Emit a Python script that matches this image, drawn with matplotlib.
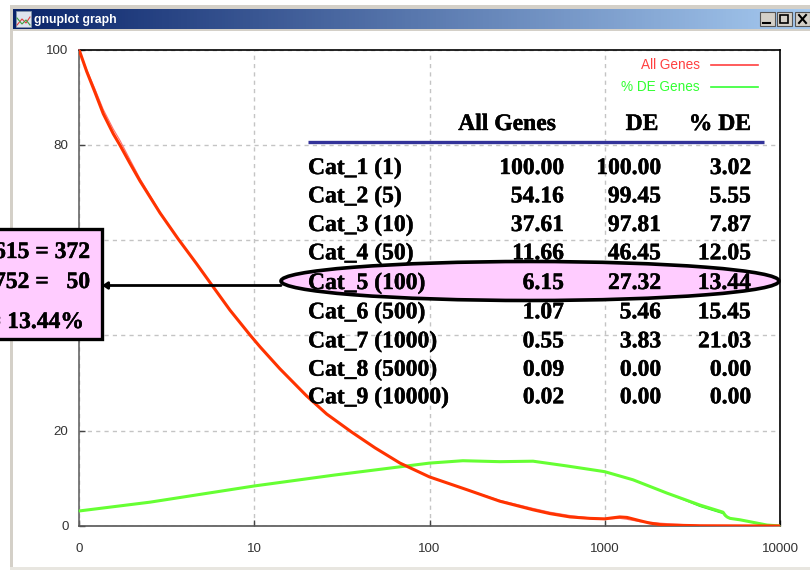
import numpy as np
import matplotlib
matplotlib.use("Agg")
import matplotlib.pyplot as plt
import matplotlib.patheffects as pe
from matplotlib.patches import Ellipse, Rectangle

# ---- data
red_x = [1, 1.106, 1.234, 1.376, 1.569, 1.714, 1.954, 2.229, 2.899, 3.687, 4.694, 5.72, 7.27, 9.45, 10.79, 14, 19.9, 25.9, 36, 48.9, 67.9, 100, 164, 252, 390, 487, 634, 824, 1000, 1100, 1218, 1340, 1589, 1813, 2065, 2266, 3491, 10000]
red_y = [100, 95.4, 91, 86.5, 82.3, 79.9, 76.1, 72.4, 65.7, 60.2, 55, 50.6, 45.3, 40.1, 37.6, 33, 27.3, 23.5, 19.7, 16.4, 13.2, 10.3, 7.6, 5.2, 3.4, 2.6, 1.9, 1.6, 1.5, 1.7, 1.9, 1.8, 1.1, 0.6, 0.3, 0.2, 0.05, 0]
red_thin_y = [100, 95.8, 91.7, 87.4, 83.3, 80.9, 76.9, 72.9, 65.9, 60.2, 55, 50.6, 45.3, 40.1, 37.6, 33.1, 27.3, 23.5, 19.7, 16.4, 13.2, 10.3, 7.6, 5.4, 3.7, 2.9, 2.2, 1.7, 1.5, 1.5, 1.6, 1.4, 0.9, 0.8, 0.6, 0.5, 0.1, 0]
green_x = [1, 2.54, 10, 28.8, 100, 155, 252, 390, 609, 1000, 1449, 2266, 3491, 4730, 4856, 4988, 5188, 5913, 8430, 10000]
green_y = [3.15, 5, 8.4, 10.7, 13.2, 13.7, 13.5, 13.6, 12.6, 11.4, 9.7, 6.9, 4.4, 2.9, 2.3, 1.9, 1.6, 1.3, 0.2, 0]
green_thin_y = [3.15, 5, 8.4, 10.7, 13.2, 13.7, 13.5, 13.6, 12.6, 11.4, 9.7, 6.9, 4.1, 2.6, 2.1, 1.8, 1.6, 1.3, 0.2, 0]
x_ticks = [1, 10, 100, 1000, 10000]
x_labels = ["0", "10", "100", "1000", "10000"]
y_ticks = [0, 20, 40, 60, 80, 100]

cats = ["Cat_1 (1)", "Cat_2 (5)", "Cat_3 (10)", "Cat_4 (50)", "Cat_5 (100)", "Cat_6 (500)", "Cat_7 (1000)", "Cat_8 (5000)", "Cat_9 (10000)"]
all_genes = ["100.00", "54.16", "37.61", "11.66", "6.15", "1.07", "0.55", "0.09", "0.02"]
de = ["100.00", "99.45", "97.81", "46.45", "27.32", "5.46", "3.83", "0.00", "0.00"]
pct_de = ["3.02", "5.55", "7.87", "12.05", "13.44", "15.45", "21.03", "0.00", "0.00"]

W, H = 810, 570
fig = plt.figure(figsize=(W / 100, H / 100), dpi=100, facecolor="white")
SANS = "Liberation Sans"
SERIF = "Liberation Serif"

# window chrome layer
bg = fig.add_axes([0, 0, 1, 1], zorder=0)
bg.set_xlim(0, W); bg.set_ylim(H, 0); bg.axis("off")
chrome = "#D4D0C8"
bg.add_patch(Rectangle((10, 5), 800, 4, fc=chrome, ec="none"))
bg.add_patch(Rectangle((10, 5), 3, 565, fc=chrome, ec="none"))
bg.add_patch(Rectangle((10, 567), 800, 3, fc="#E8E6E0", ec="none"))
grad = np.linspace(0, 1, 256)[None, :, None]
c0 = np.array([10, 36, 106]) / 255
c1 = np.array([166, 202, 240]) / 255
bg.imshow(c0 + (c1 - c0) * grad, extent=(13, 810, 29, 9), aspect="auto", zorder=1)
bg.set_xlim(0, W); bg.set_ylim(H, 0)
bg.add_patch(Rectangle((13, 29), 797, 1.5, fc=chrome, ec="none", zorder=1))
bg.add_patch(Rectangle((16, 11), 15, 16, fc="#DDE3EE", ec="#8899AA", lw=0.5, zorder=2))
bg.plot([17, 22, 26, 30], [25, 19, 23, 17], color="#E04040", lw=0.8, zorder=3)
bg.plot([17, 22, 26, 30], [18, 24, 20, 25], color="#40A040", lw=0.8, zorder=3)
bg.text(34, 19.5, "gnuplot graph", color="white", family=SANS, weight="bold", fontsize=8.8, va="center", ha="left", zorder=3)
for bx in [759.5, 776.5, 795]:
    bg.add_patch(Rectangle((bx, 12), 15, 14, fc=chrome, ec="#555555", lw=0.8, zorder=2))
bg.plot([763, 770], [23, 23], color="black", lw=1.5, zorder=3)
bg.add_patch(Rectangle((780, 15), 8, 8, fc="none", ec="black", lw=1.2, zorder=3))
bg.plot([799, 806], [15, 23], color="black", lw=1.5, zorder=3)
bg.plot([799, 806], [23, 15], color="black", lw=1.5, zorder=3)

# chart
ax = fig.add_axes([79 / W, (H - 526) / H, 701 / W, 476.5 / H], zorder=1)
ax.patch.set_alpha(0)
ax.set_xscale("log")
ax.set_xlim(1, 10000)
ax.set_ylim(0, 100)
ax.set_xticks(x_ticks, x_labels)
ax.xaxis.set_minor_locator(matplotlib.ticker.NullLocator())
ax.set_yticks(y_ticks)
ax.grid(True, color="#C4C4C4", ls=(0, (3, 3)), lw=1)
ax.set_axisbelow(True)
ax.tick_params(direction="in", length=4, width=1, color="#444444", labelcolor="#333333", labelsize=9.6)
ax.tick_params(axis="y", pad=7.5)
ax.tick_params(axis="x", pad=12)
for lab in ax.get_xticklabels() + ax.get_yticklabels():
    lab.set_family(SANS)
ax.spines["left"].set_color("#666666"); ax.spines["bottom"].set_color("#555555")
ax.spines["top"].set_color("black"); ax.spines["right"].set_color("black")
for s in ax.spines.values():
    s.set_linewidth(1.2)

ax.plot(green_x, green_thin_y, color="#22EE22", lw=0.8, clip_on=False, zorder=3)
ax.plot(green_x, green_y, color="#66FF33", lw=2.2, solid_capstyle="butt", zorder=3.1)
ax.plot(red_x, red_thin_y, color="#FF7070", lw=0.8, clip_on=False, zorder=3.2)
ax.plot(red_x, red_y, color="#FF3300", lw=2.2, solid_capstyle="butt", zorder=3.3)

# annotation layer
ov = fig.add_axes([0, 0, 1, 1], zorder=2)
ov.set_xlim(0, W); ov.set_ylim(H, 0); ov.axis("off"); ov.patch.set_alpha(0)

ov.text(700, 65, "All Genes", color="#FF4040", family=SANS, fontsize=9.8, ha="right", va="center")
ov.plot([711, 758], [65, 65], color="#FF4040", lw=1.2)
ov.text(700, 87, "% DE Genes", color="#33FF33", family=SANS, fontsize=9.8, ha="right", va="center")
ov.plot([711, 758], [87, 87], color="#33FF33", lw=1.2)

ov.plot([308, 764], [141.5, 141.5], color="#333399", lw=2.4, solid_capstyle="butt")

ov.add_patch(Ellipse((530, 281), 498, 39, fc="#FFCCFF", ec="black", lw=2.6, zorder=2))
ov.add_patch(Rectangle((-5, 229), 107, 110, fc="#FFCCFF", ec="black", lw=2.4, zorder=2))
ov.annotate("", xy=(102, 285.5), xytext=(281, 285.5), zorder=2,
            arrowprops=dict(arrowstyle="-|>,head_length=0.3,head_width=0.2", color="black", lw=2, shrinkA=0, shrinkB=0))

thick = [pe.withStroke(linewidth=0.3, foreground="black")]
bold = dict(family=SERIF, weight="bold", color="black", fontsize=17, va="baseline", zorder=4, path_effects=thick)
ov.text(507, 130, "All Genes", ha="center", **bold)
ov.text(642, 130, "DE", ha="center", **bold)
ov.text(751, 130, "% DE", ha="right", **bold)

row_y = [174, 202.3, 231, 259.3, 289, 318.3, 347.3, 375.7, 403.3]
for yy, c, a, d, p in zip(row_y, cats, all_genes, de, pct_de):
    ov.text(308, yy, c, ha="left", **bold)
    ov.text(564, yy, a, ha="right", **bold)
    ov.text(661, yy, d, ha="right", **bold)
    ov.text(751, yy, p, ha="right", **bold)

ov.text(90, 258, "615 = 372", ha="right", **bold)
ov.text(90, 288, "752 =   50", ha="right", **bold)
ov.text(84, 328, "= 13.44%", ha="right", clip_on=True, **bold)

fig.savefig("out.png", dpi=100)
